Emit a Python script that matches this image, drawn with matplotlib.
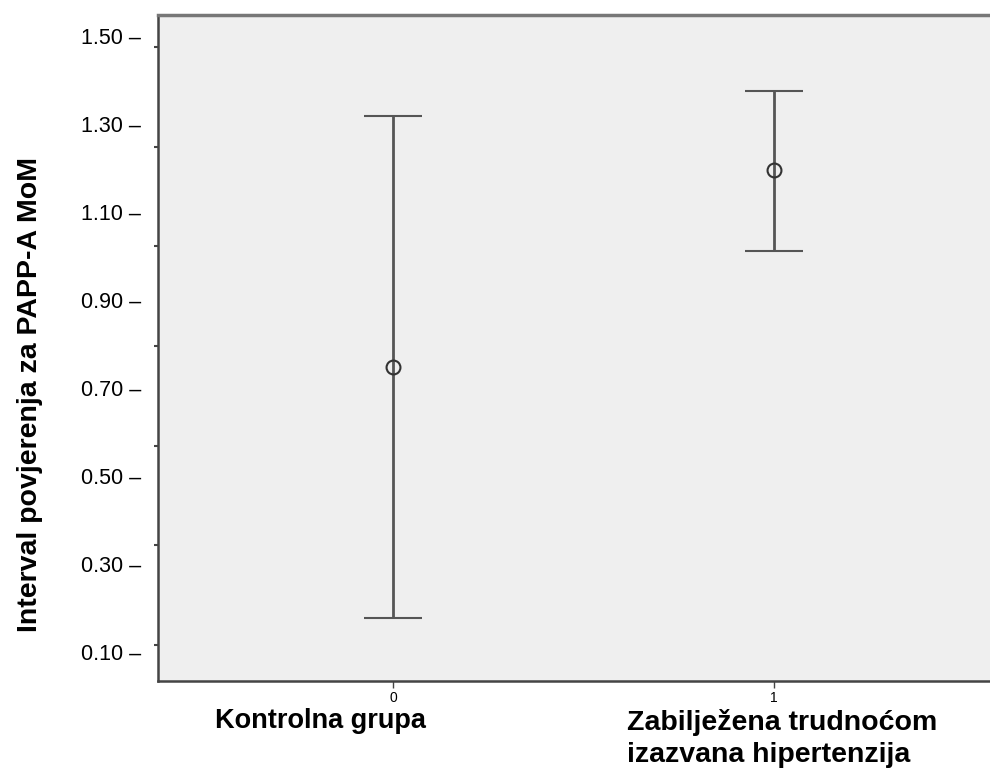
import matplotlib.pyplot as plt

# Grupe i intervali povjerenja (95% CI) za PAPP-A MoM
grupe = [0, 1]
grupa_nazivi = ['Kontrolna grupa', 'Zabilježena trudnoćom\nizazvana hipertenzija']
sredina = [0.748, 1.194]
donja = [0.177, 1.010]
gornja = [1.318, 1.375]

y_oznake = [0.10, 0.30, 0.50, 0.70, 0.90, 1.10, 1.30, 1.50]
# kratke crtice na osi (ne poklapaju se s oznakama u originalu)
y_crtice = [0.116, 0.342, 0.569, 0.795, 1.022, 1.248, 1.475]

plt.rcParams['font.family'] = ['Liberation Sans', 'DejaVu Sans']

fig = plt.figure(figsize=(9.9, 7.78), dpi=100)
ax = fig.add_axes([158 / 990, 1 - 681 / 778, 1 - 158 / 990, (681 - 15) / 778])
ax.set_facecolor('#efefef')

yerr = [[m - d for m, d in zip(sredina, donja)], [g - m for g, m in zip(gornja, sredina)]]
ax.errorbar(grupe, sredina, yerr=yerr, fmt='o', color='#555555', ecolor='#555555',
            elinewidth=2, capsize=21, capthick=2, markersize=10,
            markerfacecolor='none', markeredgecolor='#333333', markeredgewidth=1.5)

ax.set_xlim(-0.617, 1.567)
ax.set_ylim(0.034, 1.547)

ax.set_yticks(y_oznake)
ax.set_yticklabels([f'{v:.2f} –' for v in y_oznake], fontsize=15.5)
ax.tick_params(axis='y', which='major', length=0, pad=12)
ax.set_yticks(y_crtice, minor=True)
ax.tick_params(axis='y', which='minor', length=3, width=1.5, color='#444444', direction='out')

ax.set_xticks(grupe)
ax.set_xticklabels(['0', '1'], fontsize=10)
ax.tick_params(axis='x', length=5, width=1, color='#444444', pad=2)

for sp in ['left', 'bottom', 'top']:
    ax.spines[sp].set_color('#444444')
    ax.spines[sp].set_linewidth(1.8)
ax.spines['top'].set_color('#777777')
ax.spines['top'].set_linewidth(2.5)
ax.spines['right'].set_visible(False)

fig.text(320 / 990, 1 - 721 / 778, grupa_nazivi[0], fontsize=19.5, fontweight='bold',
         ha='center', va='center')
fig.text(627 / 990, 1 - 739 / 778, grupa_nazivi[1], fontsize=20.5, fontweight='bold',
         ha='left', va='center', linespacing=1.3)

fig.text(30 / 990, 1 - 395 / 778, 'Interval povjerenja za PAPP-A MoM', fontsize=20.5,
         fontweight='bold', rotation=90, ha='center', va='center')

fig.savefig('out.png', dpi=100)
